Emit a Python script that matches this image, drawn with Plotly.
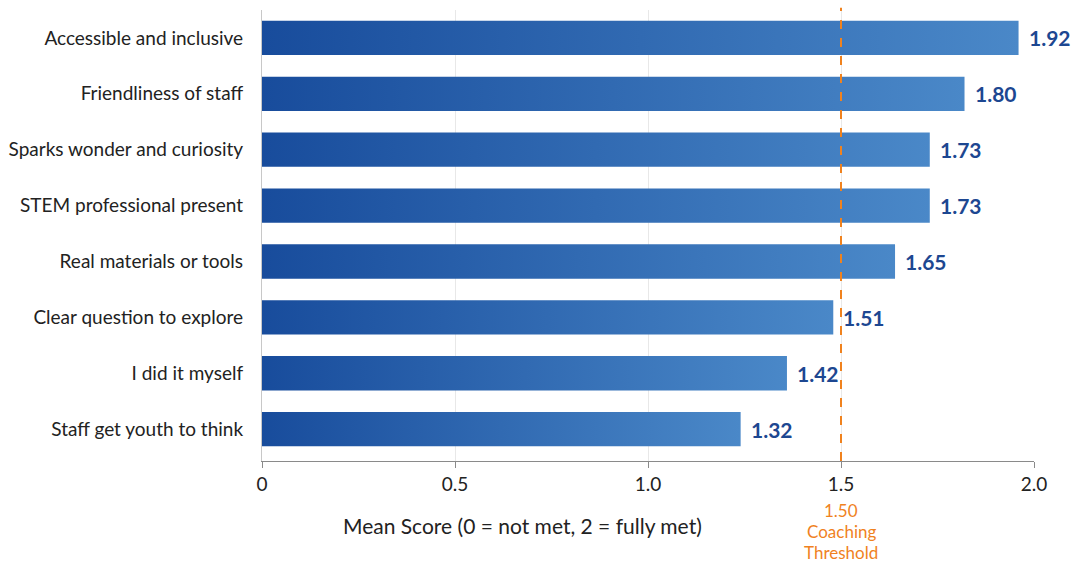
import plotly.graph_objects as go

categories = [
    "Accessible and inclusive",
    "Friendliness of staff",
    "Sparks wonder and curiosity",
    "STEM professional present",
    "Real materials or tools",
    "Clear question to explore",
    "I did it myself",
    "Staff get youth to think",
]
score_labels = ["1.92", "1.80", "1.73", "1.73", "1.65", "1.51", "1.42", "1.32"]
bar_lengths = [1.96, 1.82, 1.73, 1.73, 1.64, 1.48, 1.36, 1.24]
threshold = 1.5
threshold_lines = ["1.50", "Coaching", "Threshold"]
x_ticks = [0, 0.5, 1.0, 1.5, 2.0]
x_tick_text = ["0", "0.5", "1.0", "1.5", "2.0"]

FONT = "Lato"
half = 0.307
PLOT_H = 565 - 10 - 104

fig = go.Figure()
for i, (cat, length) in enumerate(zip(categories, bar_lengths)):
    fig.add_trace(go.Scatter(
        x=[0, length, length, 0, 0],
        y=[i - half, i - half, i + half, i + half, i - half],
        mode="lines",
        line=dict(width=0),
        fill="toself",
        fillgradient=dict(type="horizontal",
                          colorscale=[[0, "#184c9c"], [1, "#4a88c8"]]),
        hoverinfo="skip",
        name=cat,
        showlegend=False,
    ))

annotations = []
for i, (length, lab) in enumerate(zip(bar_lengths, score_labels)):
    annotations.append(dict(
        x=length, y=i, xref="x", yref="y", text=f"<b>{lab}</b>",
        showarrow=False, xanchor="left", yanchor="middle", xshift=8,
        font=dict(family=FONT, size=21, color="#1d4791"),
    ))

annotations.append(dict(
    x=0.337, y=-64 / PLOT_H, xref="paper", yref="paper",
    text="Mean Score (0 = not met, 2 = fully met)", showarrow=False,
    xanchor="center", yanchor="middle",
    font=dict(family=FONT, size=21, color="#222222"),
))
for k, line_txt in enumerate(threshold_lines):
    annotations.append(dict(
        x=threshold, y=-(49 + 21 * k) / PLOT_H, xref="x", yref="paper",
        text=line_txt, showarrow=False,
        xanchor="center", yanchor="middle",
        font=dict(family=FONT, size=17, color="#f0821e"),
    ))

fig.add_shape(type="line", x0=threshold, x1=threshold, y0=0, y1=1.005,
              xref="x", yref="paper",
              line=dict(color="#f0821e", width=2, dash="dash"), layer="above")

fig.update_layout(
    width=1073, height=565,
    margin=dict(l=262, r=39, t=10, b=104),
    paper_bgcolor="white", plot_bgcolor="white",
    annotations=annotations,
    font=dict(family=FONT, color="#222222"),
)
fig.update_xaxes(
    range=[0, 2.0], tickvals=x_ticks, ticktext=x_tick_text,
    showgrid=True, gridcolor="#e8e8e8", gridwidth=1,
    showline=True, linecolor="#8a8a8a", linewidth=1.2,
    ticks="outside", ticklen=6, tickcolor="#8a8a8a",
    tickfont=dict(family=FONT, size=19, color="#222222"),
    zeroline=False, automargin=False,
)
fig.update_yaxes(
    range=[7.57, -0.5], tickvals=list(range(len(categories))), ticktext=categories,
    showgrid=False, showline=True, linecolor="#c8c8c8", linewidth=1.2,
    ticks="", ticklabelstandoff=14,
    tickfont=dict(family=FONT, size=19, color="#222222"),
    zeroline=False, automargin=False,
)

fig.write_html("out.html")
